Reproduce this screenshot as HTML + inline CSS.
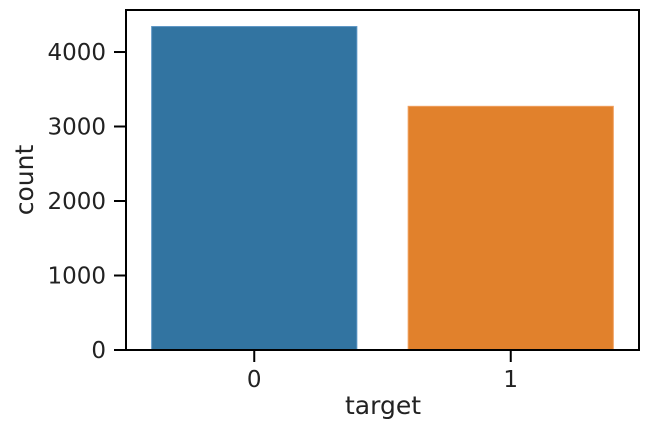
<!DOCTYPE html>
<html><head><meta charset="utf-8"><style>
html,body{margin:0;padding:0;background:#fff;}
svg{display:block;font-family:"DejaVu Sans","Liberation Sans",sans-serif;}
</style></head><body>
<svg id="chart" width="650" height="437"></svg>
<script>
const categories = ["0", "1"];
const counts = [4342, 3271];
const yTicks = [0, 1000, 2000, 3000, 4000];
const colors = ["#3274a1", "#e1812c"];

const svg = document.getElementById('chart');
const NS = 'http://www.w3.org/2000/svg';
const L = 126, R = 639, T = 10, B = 350;
const yMax = 4564;
function y(v){ return B - v / yMax * (B - T); }
function x(i){ return L + (i + 0.5) / categories.length * (R - L); }
const band = (R - L) / categories.length;
function mk(tag, attrs){ const e = document.createElementNS(NS, tag); for (const k in attrs) e.setAttribute(k, attrs[k]); svg.appendChild(e); return e; }

counts.forEach((v, i) => {
  const w = band * 0.8;
  const r = mk('rect', {x: x(i) - w/2, y: y(v), width: w, height: B - y(v), fill: colors[i], stroke: i === 0 ? '#5b95c4' : '#f0a060', 'stroke-width': 1});
  
  
});

yTicks.forEach(t => {
  const l = mk('line', {x1: L - 12, x2: L, y1: y(t), y2: y(t), stroke: '#000', 'stroke-width': 2});
  
  
  const tx = mk('text', {x: L - 20, y: y(t) + 8, 'text-anchor': 'end', 'font-size': 23, fill: '#222'});
  tx.textContent = t;
  
  
});

categories.forEach((c, i) => {
  const l = mk('line', {x1: x(i), x2: x(i), y1: B, y2: B + 12, stroke: '#000', 'stroke-width': 2});
  
  
  const tx = mk('text', {x: x(i), y: B + 37, 'text-anchor': 'middle', 'font-size': 23, fill: '#222'});
  tx.textContent = c;
  
  
});

const frame = mk('rect', {x: L, y: T, width: R - L, height: B - T, fill: 'none', stroke: '#000', 'stroke-width': 2});



const xl = mk('text', {x: 383, y: 414, 'text-anchor': 'middle', 'font-size': 25, fill: '#222'});
xl.textContent = 'target';



const yl = mk('text', {x: 0, y: 0, 'text-anchor': 'middle', 'font-size': 25, fill: '#222', transform: 'translate(33,' + ((T + B) / 2) + ') rotate(-90)'});
yl.textContent = 'count';


</script>
</body></html>
